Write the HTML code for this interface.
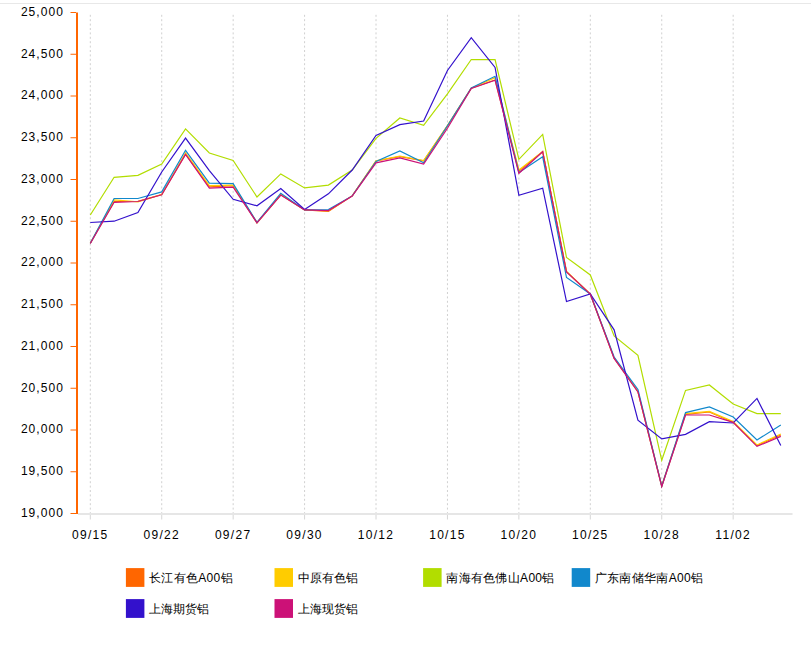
<!DOCTYPE html>
<html><head><meta charset="utf-8"><style>
html,body{margin:0;padding:0;background:#fff;width:811px;height:650px;overflow:hidden}
svg{display:block}
.t{font-family:"Liberation Sans",sans-serif;font-size:12px;fill:#000;letter-spacing:1.05px}
.tx{font-family:"Liberation Sans",sans-serif;font-size:12px;fill:#000;letter-spacing:1.3px}
.lg{font-family:"Liberation Sans",sans-serif;font-size:12px;fill:#000;letter-spacing:0.4px}
</style></head><body>
<svg width="811" height="650" viewBox="0 0 811 650">
<rect x="0" y="3" width="811" height="1" fill="#e8e8e8"/>
<line x1="90.30" y1="14.8" x2="90.30" y2="512" stroke="#d0d0d0" stroke-width="1" stroke-dasharray="2,2.4"/>
<line x1="90.30" y1="512" x2="90.30" y2="519.5" stroke="#d6d6d6" stroke-width="1"/>
<line x1="161.73" y1="14.8" x2="161.73" y2="512" stroke="#d0d0d0" stroke-width="1" stroke-dasharray="2,2.4"/>
<line x1="161.73" y1="512" x2="161.73" y2="519.5" stroke="#d6d6d6" stroke-width="1"/>
<line x1="233.16" y1="14.8" x2="233.16" y2="512" stroke="#d0d0d0" stroke-width="1" stroke-dasharray="2,2.4"/>
<line x1="233.16" y1="512" x2="233.16" y2="519.5" stroke="#d6d6d6" stroke-width="1"/>
<line x1="304.59" y1="14.8" x2="304.59" y2="512" stroke="#d0d0d0" stroke-width="1" stroke-dasharray="2,2.4"/>
<line x1="304.59" y1="512" x2="304.59" y2="519.5" stroke="#d6d6d6" stroke-width="1"/>
<line x1="376.02" y1="14.8" x2="376.02" y2="512" stroke="#d0d0d0" stroke-width="1" stroke-dasharray="2,2.4"/>
<line x1="376.02" y1="512" x2="376.02" y2="519.5" stroke="#d6d6d6" stroke-width="1"/>
<line x1="447.45" y1="14.8" x2="447.45" y2="512" stroke="#d0d0d0" stroke-width="1" stroke-dasharray="2,2.4"/>
<line x1="447.45" y1="512" x2="447.45" y2="519.5" stroke="#d6d6d6" stroke-width="1"/>
<line x1="518.88" y1="14.8" x2="518.88" y2="512" stroke="#d0d0d0" stroke-width="1" stroke-dasharray="2,2.4"/>
<line x1="518.88" y1="512" x2="518.88" y2="519.5" stroke="#d6d6d6" stroke-width="1"/>
<line x1="590.31" y1="14.8" x2="590.31" y2="512" stroke="#d0d0d0" stroke-width="1" stroke-dasharray="2,2.4"/>
<line x1="590.31" y1="512" x2="590.31" y2="519.5" stroke="#d6d6d6" stroke-width="1"/>
<line x1="661.74" y1="14.8" x2="661.74" y2="512" stroke="#d0d0d0" stroke-width="1" stroke-dasharray="2,2.4"/>
<line x1="661.74" y1="512" x2="661.74" y2="519.5" stroke="#d6d6d6" stroke-width="1"/>
<line x1="733.17" y1="14.8" x2="733.17" y2="512" stroke="#d0d0d0" stroke-width="1" stroke-dasharray="2,2.4"/>
<line x1="733.17" y1="512" x2="733.17" y2="519.5" stroke="#d6d6d6" stroke-width="1"/>
<line x1="78" y1="514" x2="792.5" y2="514" stroke="#e6e6e6" stroke-width="1.8"/>
<line x1="77" y1="12.5" x2="77" y2="514" stroke="#ff6600" stroke-width="2"/>
<line x1="70.5" y1="12.50" x2="76" y2="12.50" stroke="#ff6600" stroke-width="1"/>
<text x="63.9" y="15.80" text-anchor="end" class="t">25,000</text>
<line x1="70.5" y1="54.25" x2="76" y2="54.25" stroke="#ff6600" stroke-width="1"/>
<text x="63.9" y="57.55" text-anchor="end" class="t">24,500</text>
<line x1="70.5" y1="96.00" x2="76" y2="96.00" stroke="#ff6600" stroke-width="1"/>
<text x="63.9" y="99.30" text-anchor="end" class="t">24,000</text>
<line x1="70.5" y1="137.75" x2="76" y2="137.75" stroke="#ff6600" stroke-width="1"/>
<text x="63.9" y="141.05" text-anchor="end" class="t">23,500</text>
<line x1="70.5" y1="179.50" x2="76" y2="179.50" stroke="#ff6600" stroke-width="1"/>
<text x="63.9" y="182.80" text-anchor="end" class="t">23,000</text>
<line x1="70.5" y1="221.25" x2="76" y2="221.25" stroke="#ff6600" stroke-width="1"/>
<text x="63.9" y="224.55" text-anchor="end" class="t">22,500</text>
<line x1="70.5" y1="263.00" x2="76" y2="263.00" stroke="#ff6600" stroke-width="1"/>
<text x="63.9" y="266.30" text-anchor="end" class="t">22,000</text>
<line x1="70.5" y1="304.75" x2="76" y2="304.75" stroke="#ff6600" stroke-width="1"/>
<text x="63.9" y="308.05" text-anchor="end" class="t">21,500</text>
<line x1="70.5" y1="346.50" x2="76" y2="346.50" stroke="#ff6600" stroke-width="1"/>
<text x="63.9" y="349.80" text-anchor="end" class="t">21,000</text>
<line x1="70.5" y1="388.25" x2="76" y2="388.25" stroke="#ff6600" stroke-width="1"/>
<text x="63.9" y="391.55" text-anchor="end" class="t">20,500</text>
<line x1="70.5" y1="430.00" x2="76" y2="430.00" stroke="#ff6600" stroke-width="1"/>
<text x="63.9" y="433.30" text-anchor="end" class="t">20,000</text>
<line x1="70.5" y1="471.75" x2="76" y2="471.75" stroke="#ff6600" stroke-width="1"/>
<text x="63.9" y="475.05" text-anchor="end" class="t">19,500</text>
<line x1="70.5" y1="513.50" x2="76" y2="513.50" stroke="#ff6600" stroke-width="1"/>
<text x="63.9" y="516.80" text-anchor="end" class="t">19,000</text>
<text x="90.30" y="538.5" text-anchor="middle" class="tx">09/15</text>
<text x="161.73" y="538.5" text-anchor="middle" class="tx">09/22</text>
<text x="233.16" y="538.5" text-anchor="middle" class="tx">09/27</text>
<text x="304.59" y="538.5" text-anchor="middle" class="tx">09/30</text>
<text x="376.02" y="538.5" text-anchor="middle" class="tx">10/12</text>
<text x="447.45" y="538.5" text-anchor="middle" class="tx">10/15</text>
<text x="518.88" y="538.5" text-anchor="middle" class="tx">10/20</text>
<text x="590.31" y="538.5" text-anchor="middle" class="tx">10/25</text>
<text x="661.74" y="538.5" text-anchor="middle" class="tx">10/28</text>
<text x="733.17" y="538.5" text-anchor="middle" class="tx">11/02</text>
<polyline points="90.30,243.30 114.11,201.50 137.92,201.30 161.73,194.60 185.54,154.20 209.35,186.80 233.16,185.70 256.97,223.00 280.78,194.80 304.59,209.90 328.40,211.40 352.21,195.90 376.02,161.00 399.83,156.60 423.64,160.80 447.45,125.80 471.26,88.20 495.07,80.00 518.88,171.20 542.69,151.60 566.50,271.70 590.31,294.00 614.12,358.20 637.93,391.50 661.74,486.20 685.55,414.40 709.36,412.00 733.17,422.40 756.98,445.60 780.79,435.00" fill="none" stroke="#ff6600" stroke-width="1.2" stroke-linejoin="miter"/>
<polyline points="90.30,243.30 114.11,200.00 137.92,201.90 161.73,194.50 185.54,152.80 209.35,185.70 233.16,185.10 256.97,222.60 280.78,194.50 304.59,209.90 328.40,211.00 352.21,195.90 376.02,160.80 399.83,156.00 423.64,160.50 447.45,125.50 471.26,88.20 495.07,77.60 518.88,169.90 542.69,151.50 566.50,271.50 590.31,294.00 614.12,358.00 637.93,391.50 661.74,486.00 685.55,413.60 709.36,411.40 733.17,421.60 756.98,445.00 780.79,434.00" fill="none" stroke="#ffcc00" stroke-width="1.2" stroke-linejoin="miter"/>
<polyline points="90.30,215.00 114.11,177.30 137.92,175.40 161.73,164.00 185.54,128.90 209.35,153.00 233.16,160.50 256.97,197.00 280.78,173.90 304.59,187.90 328.40,185.10 352.21,170.00 376.02,138.30 399.83,118.00 423.64,125.40 447.45,93.80 471.26,59.50 495.07,59.60 518.88,159.40 542.69,134.40 566.50,257.50 590.31,275.00 614.12,336.00 637.93,355.30 661.74,460.30 685.55,390.40 709.36,385.00 733.17,404.00 756.98,413.60 780.79,413.60" fill="none" stroke="#b2dd00" stroke-width="1.2" stroke-linejoin="miter"/>
<polyline points="90.30,243.30 114.11,198.50 137.92,198.50 161.73,191.90 185.54,150.30 209.35,183.10 233.16,183.60 256.97,222.40 280.78,193.20 304.59,209.90 328.40,209.50 352.21,195.90 376.02,161.40 399.83,151.00 423.64,162.80 447.45,125.80 471.26,88.00 495.07,76.30 518.88,172.50 542.69,156.80 566.50,277.50 590.31,294.00 614.12,357.00 637.93,389.40 661.74,486.00 685.55,412.60 709.36,407.00 733.17,417.00 756.98,440.00 780.79,425.00" fill="none" stroke="#1188cc" stroke-width="1.2" stroke-linejoin="miter"/>
<polyline points="90.30,222.50 114.11,221.20 137.92,212.50 161.73,172.00 185.54,138.10 209.35,170.60 233.16,199.30 256.97,205.80 280.78,188.50 304.59,209.50 328.40,193.80 352.21,170.00 376.02,135.40 399.83,124.60 423.64,121.00 447.45,70.50 471.26,37.70 495.07,67.40 518.88,195.30 542.69,188.20 566.50,301.50 590.31,294.00 614.12,329.80 637.93,420.20 661.74,438.90 685.55,434.40 709.36,421.60 733.17,423.00 756.98,398.40 780.79,445.60" fill="none" stroke="#3311cc" stroke-width="1.2" stroke-linejoin="miter"/>
<polyline points="90.30,243.50 114.11,202.30 137.92,201.50 161.73,194.80 185.54,154.40 209.35,188.10 233.16,187.20 256.97,222.80 280.78,195.00 304.59,209.90 328.40,210.60 352.21,196.00 376.02,162.80 399.83,157.80 423.64,164.00 447.45,128.30 471.26,88.40 495.07,80.20 518.88,173.30 542.69,151.70 566.50,271.90 590.31,294.00 614.12,358.40 637.93,391.90 661.74,486.50 685.55,415.00 709.36,415.00 733.17,422.40 756.98,446.40 780.79,436.40" fill="none" stroke="#cc1177" stroke-width="1.2" stroke-linejoin="miter"/>
<rect x="125.9" y="568.1" width="18.5" height="18.8" fill="#ff6600"/>
<text x="149.1" y="582.1" class="lg" style="letter-spacing:0.3px">长江有色A00铝</text>
<rect x="274.5" y="568.1" width="18.5" height="18.8" fill="#ffcc00"/>
<text x="297.7" y="582.1" class="lg" style="letter-spacing:0px">中原有色铝</text>
<rect x="423.1" y="568.1" width="18.5" height="18.8" fill="#b2dd00"/>
<text x="446.3" y="582.1" class="lg" style="letter-spacing:0.3px">南海有色佛山A00铝</text>
<rect x="571.7" y="568.1" width="18.5" height="18.8" fill="#1188cc"/>
<text x="594.9" y="582.1" class="lg" style="letter-spacing:0.3px">广东南储华南A00铝</text>
<rect x="125.9" y="599.1" width="18.5" height="18.8" fill="#3311cc"/>
<text x="149.1" y="613.1" class="lg" style="letter-spacing:0px">上海期货铝</text>
<rect x="274.5" y="599.1" width="18.5" height="18.8" fill="#cc1177"/>
<text x="297.7" y="613.1" class="lg" style="letter-spacing:0px">上海现货铝</text>
</svg>
</body></html>
